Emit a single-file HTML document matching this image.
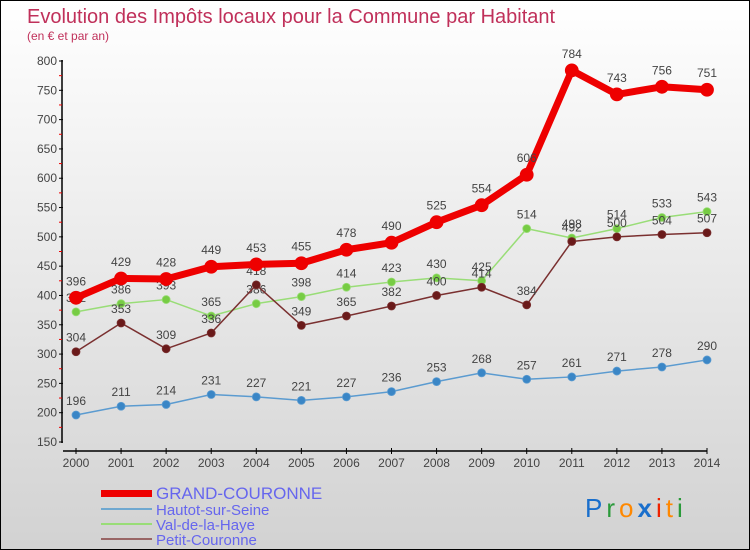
<!DOCTYPE html>
<html><head><meta charset="utf-8"><style>
body{margin:0;padding:0}
#wrap{position:relative;width:748px;height:548px;border:1px solid #000;background:linear-gradient(#ffffff,#d2d2d2);overflow:hidden;font-family:"Liberation Sans",sans-serif}
</style></head><body>
<div id="wrap">
<svg id="svg" width="748" height="548" xmlns="http://www.w3.org/2000/svg">
<text x="26" y="22" font-size="20" fill="#c0305a">Evolution des Impôts locaux pour la Commune par Habitant</text>
<text x="26" y="39" font-size="12" fill="#c0305a">(en € et par an)</text>
<g id="axes"></g>
<g id="series"></g>
<g>
<rect x="100" y="489" width="51" height="7" fill="#ee0000"/>
<text x="155" y="498" font-size="17" fill="#6666ee">GRAND-COURONNE</text>
<rect x="100" y="507" width="51" height="2" fill="#6fa8d0"/>
<text x="155" y="514" font-size="15" fill="#6666ee">Hautot-sur-Seine</text>
<rect x="100" y="522" width="51" height="2" fill="#99dd77"/>
<text x="155" y="529" font-size="15" fill="#6666ee">Val-de-la-Haye</text>
<rect x="100" y="537" width="51" height="2" fill="#996666"/>
<text x="155" y="544" font-size="15" fill="#6666ee">Petit-Couronne</text>
</g>
<text x="584" y="516" font-size="26" letter-spacing="4" font-family="'Liberation Sans',sans-serif"><tspan fill="#1a6fcc">P</tspan><tspan fill="#2a9a3a">r</tspan><tspan fill="#ff8800">o</tspan><tspan fill="#1a6fcc" font-weight="bold">x</tspan><tspan fill="#ee2200">i</tspan><tspan fill="#ff8800">t</tspan><tspan fill="#2a9a3a">i</tspan></text>
</svg>
</div>
<script>
const years=[2000,2001,2002,2003,2004,2005,2006,2007,2008,2009,2010,2011,2012,2013,2014];
const grandCouronne=[396,429,428,449,453,455,478,490,525,554,606,784,743,756,751];
const hautot=[196,211,214,231,227,221,227,236,253,268,257,261,271,278,290];
const valDeLaHaye=[372,386,393,365,386,398,414,423,430,425,514,498,514,533,543];
const petitCouronne=[304,353,309,336,418,349,365,382,400,414,384,492,500,504,507];
const yTicks=[150,200,250,300,350,400,450,500,550,600,650,700,750,800];
const NS="http://www.w3.org/2000/svg";
function xs(i){return 75+i*(706-75)/(years.length-1);}
function ys(v){return 441-(v-150)*(441-60)/650;}
function mk(tag,attrs,parent){const e=document.createElementNS(NS,tag);for(const k in attrs)e.setAttribute(k,attrs[k]);parent.appendChild(e);return e;}
const axes=document.getElementById('axes');
const yAxis=mk('line',{x1:61,y1:59,x2:61,y2:442,stroke:'#000','stroke-width':1.5},axes);


const xAxis=mk('line',{x1:62,y1:450,x2:706,y2:450,stroke:'#000','stroke-width':1.5},axes);


yTicks.forEach((t,k)=>{
 const y=ys(t);
 mk('line',{x1:58,y1:y,x2:62,y2:y,stroke:'#000'},axes);
 const tx=mk('text',{x:56,y:y+4,'font-size':12,fill:'#444','text-anchor':'end'},axes);
 tx.textContent=t;
 
 
 if(k<yTicks.length-1){const ym=ys(t+25);mk('line',{x1:58,y1:ym,x2:61,y2:ym,stroke:'#e00'},axes);}
});
years.forEach((yr,i)=>{
 const x=xs(i);
 mk('line',{x1:x,y1:447,x2:x,y2:453,stroke:'#000'},axes);
 const tx=mk('text',{x:x,y:466,'font-size':12,fill:'#444','text-anchor':'middle'},axes);
 tx.textContent=yr;
 
 
});
const sg=document.getElementById('series');
function drawSeries(vals,color,lw,r,name,dot){
 const g=mk('g',{},sg);
 
 
 const pts=vals.map((v,i)=>xs(i)+','+ys(v)).join(' ');
 mk('polyline',{points:pts,fill:'none',stroke:color,'stroke-width':lw,'stroke-linejoin':'round'},g);
 vals.forEach((v,i)=>{
  const c=mk('circle',{cx:xs(i),cy:ys(v),r:r,fill:dot,stroke:color,'stroke-width':0.8},g);
  
  
  const t=mk('text',{x:xs(i),y:ys(v)-(r+6),'font-size':12,fill:'#444','text-anchor':'middle'},g);
  t.textContent=v;
  
  
 });
}
drawSeries(hautot,'#5b9bd0',1.5,4,'hautot','#3a86c6');
drawSeries(valDeLaHaye,'#99dd77',1.5,4,'val-de-la-haye','#77cc44');
drawSeries(petitCouronne,'#7a3030',1.5,4,'petit-couronne','#6a1a1a');
drawSeries(grandCouronne,'#ee0000',7,6.5,'grand-couronne','#ee0000');
</script>
</body></html>
